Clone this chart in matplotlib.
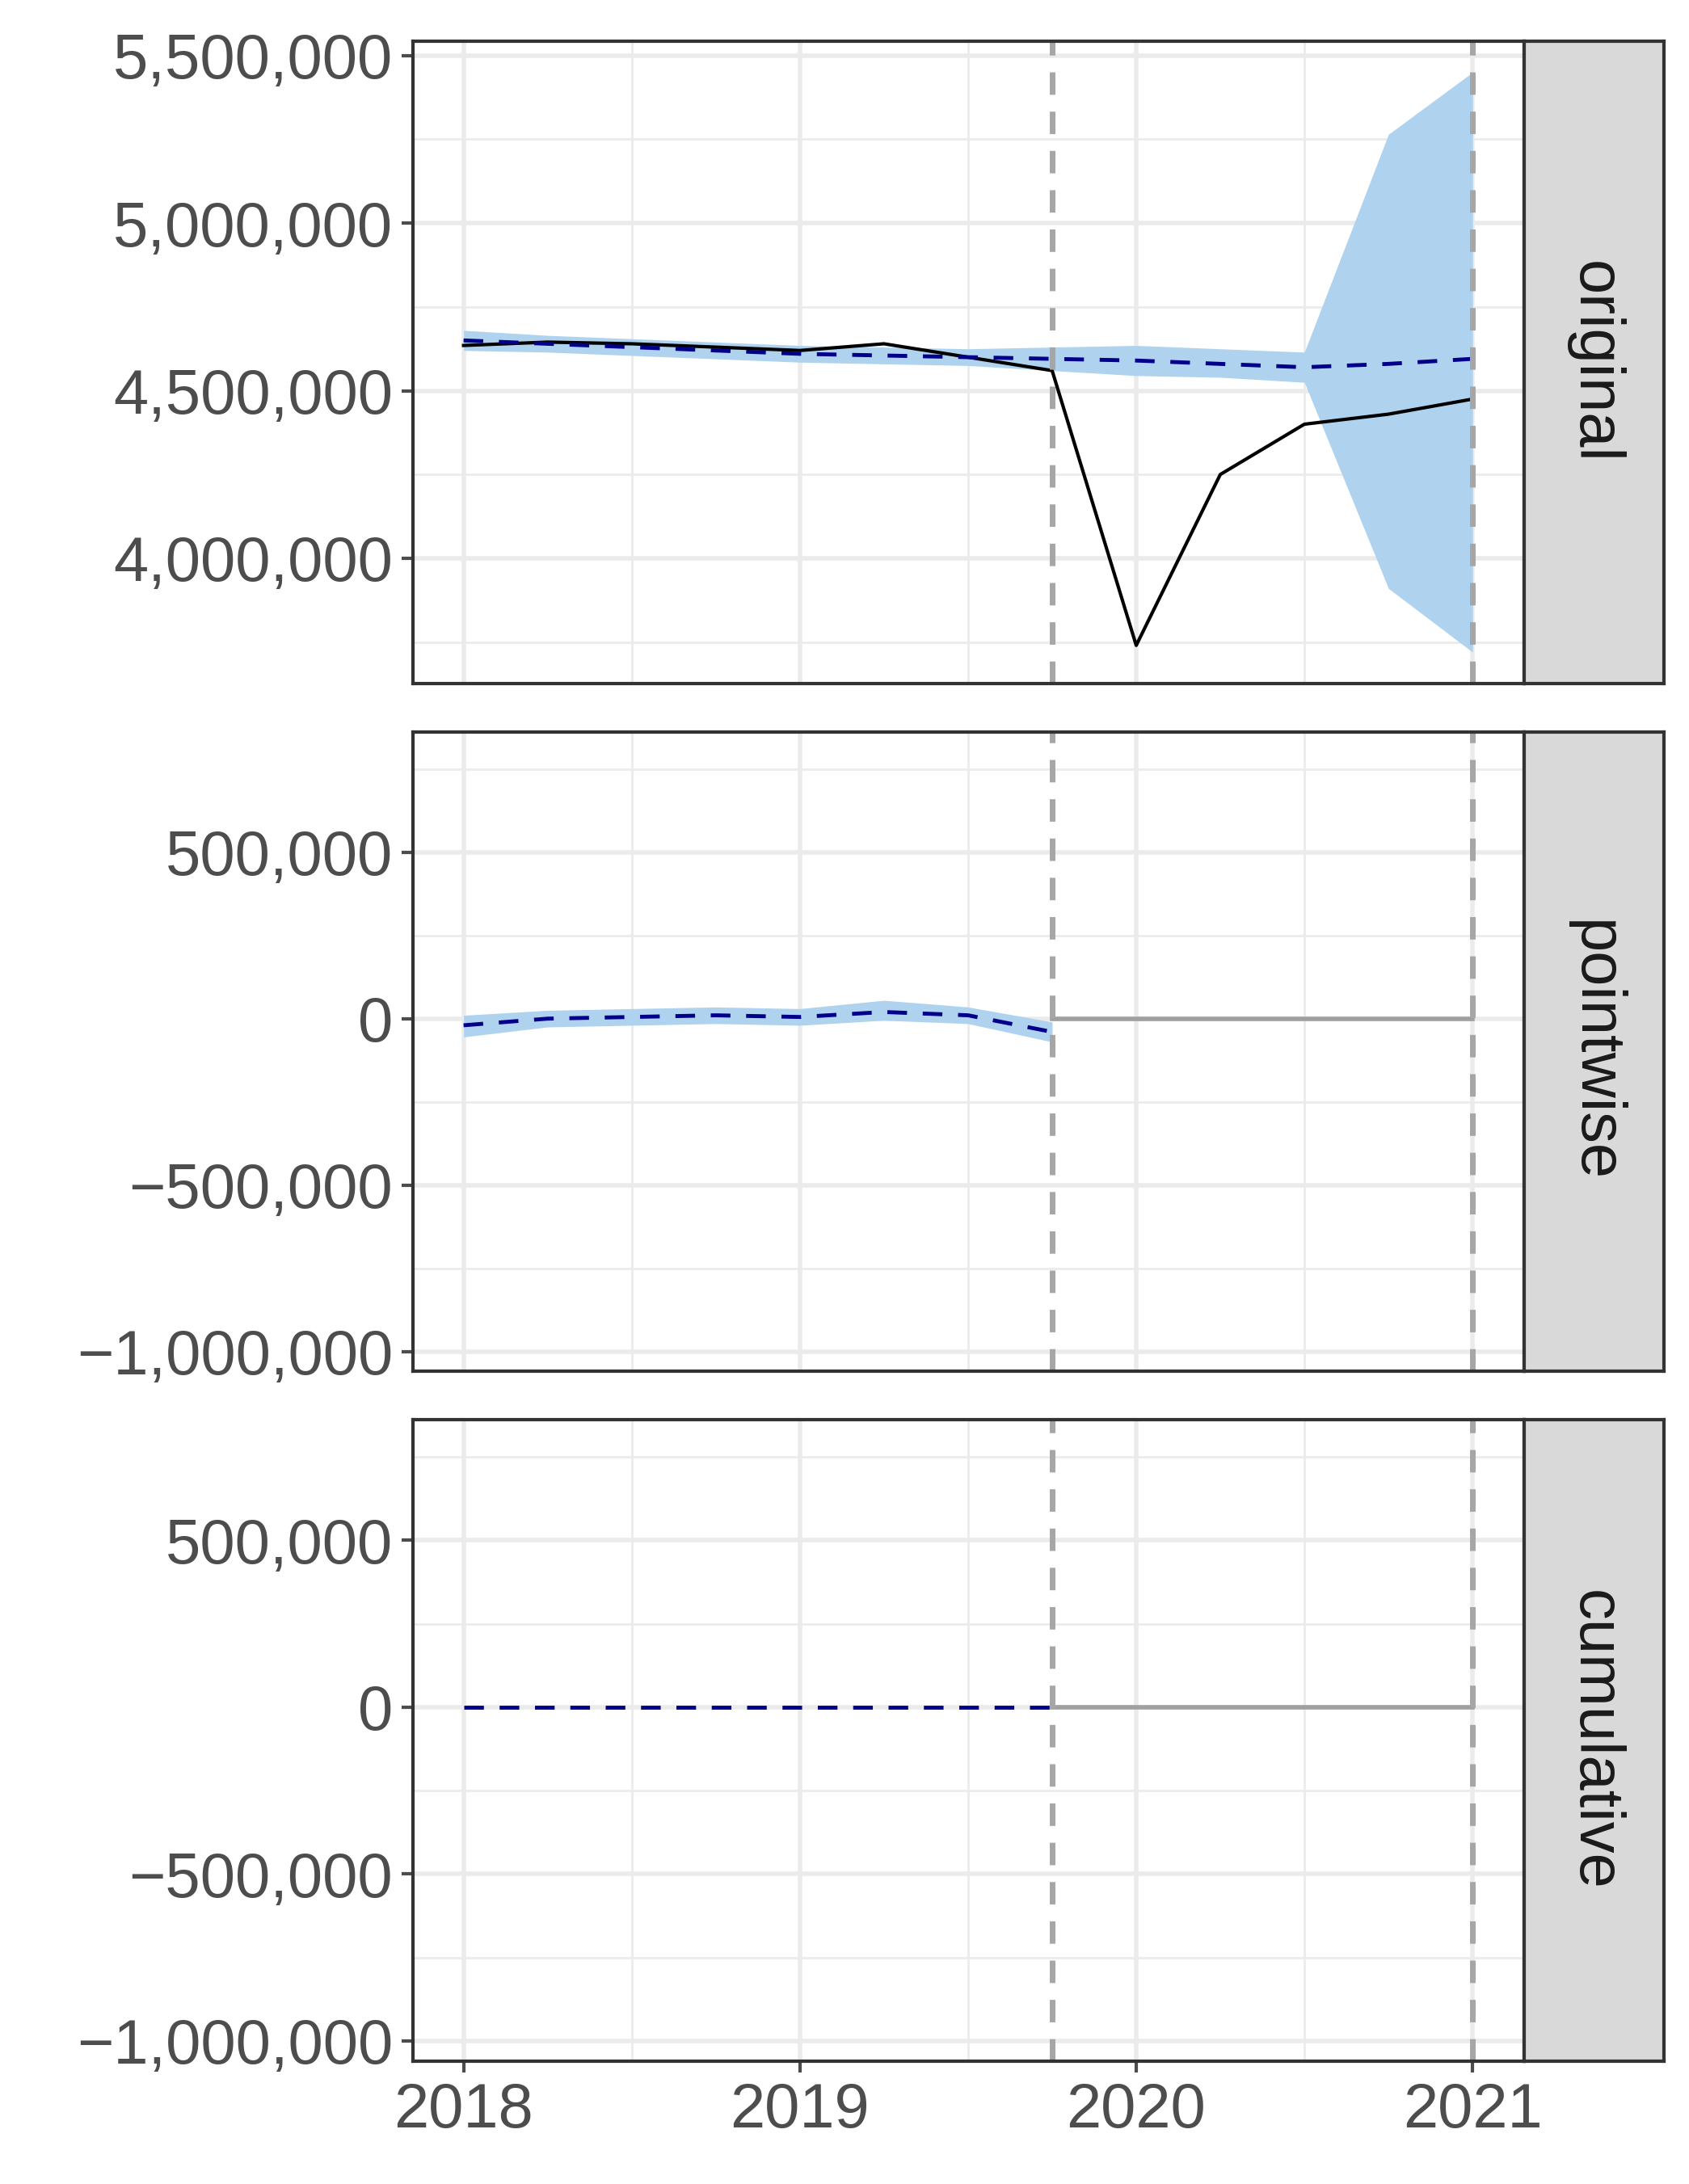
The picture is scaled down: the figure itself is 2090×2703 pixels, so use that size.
import matplotlib
matplotlib.use("Agg")
import matplotlib.pyplot as plt
from matplotlib.ticker import FuncFormatter, MultipleLocator

plt.rcParams["font.family"] = ["Liberation Sans", "DejaVu Sans"]

# quarterly time points
t = [2018.0, 2018.25, 2018.5, 2018.75, 2019.0, 2019.25, 2019.5, 2019.75,
     2020.0, 2020.25, 2020.5, 2020.75, 2021.0]
actual = [4635e3, 4645e3, 4640e3, 4630e3, 4620e3, 4640e3, 4600e3, 4560e3,
          3740e3, 4250e3, 4400e3, 4430e3, 4475e3]
pred = [4650e3, 4640e3, 4630e3, 4620e3, 4610e3, 4605e3, 4600e3, 4595e3,
        4590e3, 4580e3, 4570e3, 4580e3, 4595e3]
pred_lo = [4620e3, 4615e3, 4605e3, 4595e3, 4585e3, 4580e3, 4575e3, 4560e3,
           4545e3, 4540e3, 4525e3, 3910e3, 3720e3]
pred_hi = [4680e3, 4665e3, 4655e3, 4645e3, 4635e3, 4630e3, 4625e3, 4630e3,
           4635e3, 4625e3, 4615e3, 5265e3, 5450e3]

t_pre = t[:8]
point = [-20e3, 0, 5e3, 10e3, 5e3, 20e3, 10e3, -40e3]
point_lo = [-55e3, -25e3, -20e3, -15e3, -20e3, -5e3, -15e3, -70e3]
point_hi = [10e3, 25e3, 30e3, 35e3, 30e3, 55e3, 35e3, -10e3]
cum = [0, 0, 0, 0, 0, 0, 0, 0]
t_post = t[7:]
zero_post = [0] * len(t_post)

vlines = [2019.75, 2021.0]
strips = ["original", "pointwise", "cumulative"]

fig = plt.figure(figsize=(20.9, 27.03), dpi=100)
left, right, sright = 0.2446, 0.9025, 0.985
rows = [(0.687, 0.981), (0.372, 0.665), (0.0564, 0.35)]
band = "#afd3ef"
fs = 56


def fmt(v, _):
    s = f"{abs(v):,.0f}"
    return ("\u2212" + s) if v < 0 else s


axes = []
for i, (b, top) in enumerate(rows):
    ax = fig.add_axes([left, b, right - left, top - b])
    sax = fig.add_axes([right, b, sright - right, top - b])
    sax.set_facecolor("#d9d9d9")
    sax.set_xticks([]); sax.set_yticks([])
    for sp in sax.spines.values():
        sp.set_color("#333333"); sp.set_linewidth(3)
    sax.text(0.5, 0.5, strips[i], rotation=-90, ha="center", va="center",
             fontsize=fs, color="#1a1a1a", transform=sax.transAxes)
    axes.append(ax)

for ax in axes:
    ax.set_xlim(2017.85, 2021.154)
    ax.xaxis.set_major_locator(MultipleLocator(1))
    ax.xaxis.set_minor_locator(MultipleLocator(0.5))
    ax.grid(which="major", color="#ebebeb", lw=4)
    ax.grid(which="minor", color="#ebebeb", lw=2)
    ax.set_axisbelow(True)
    ax.yaxis.set_major_formatter(FuncFormatter(fmt))
    ax.tick_params(labelsize=fs, colors="#4d4d4d", length=10, width=3, pad=8)
    ax.tick_params(which="minor", length=0)
    for sp in ax.spines.values():
        sp.set_color("#333333"); sp.set_linewidth(3)

a0, a1, a2 = axes
a0.fill_between(t, pred_lo, pred_hi, color=band, lw=0)
a0.plot(t, actual, color="black", lw=3)
a0.plot(t, pred, color="#00008b", lw=3.5, ls=(0, (5, 4)))
a0.set_ylim(3626e3, 5542e3)
a0.yaxis.set_major_locator(MultipleLocator(500e3))
a0.yaxis.set_minor_locator(MultipleLocator(250e3))

a1.fill_between(t_pre, point_lo, point_hi, color=band, lw=0)
a1.plot(t_post, zero_post, color="#a0a0a0", lw=4)
a1.plot(t_pre, point, color="#00008b", lw=3.5, ls=(0, (5, 4)))

a2.plot(t_post, zero_post, color="#a0a0a0", lw=4)
a2.plot(t_pre, cum, color="#00008b", lw=3.5, ls=(0, (5, 4)))

for ax in (a1, a2):
    ax.set_ylim(-1060e3, 862e3)
    ax.yaxis.set_major_locator(MultipleLocator(500e3))
    ax.yaxis.set_minor_locator(MultipleLocator(250e3))

for ax in axes:
    for v in vlines:
        ax.axvline(v, color="#a6a6a6", lw=5, ls=(0, (4, 3)))
    if ax is not a2:
        ax.tick_params(labelbottom=False, bottom=False)
a2.set_xticks([2018, 2019, 2020, 2021])

fig.savefig("out.png", dpi=100)
